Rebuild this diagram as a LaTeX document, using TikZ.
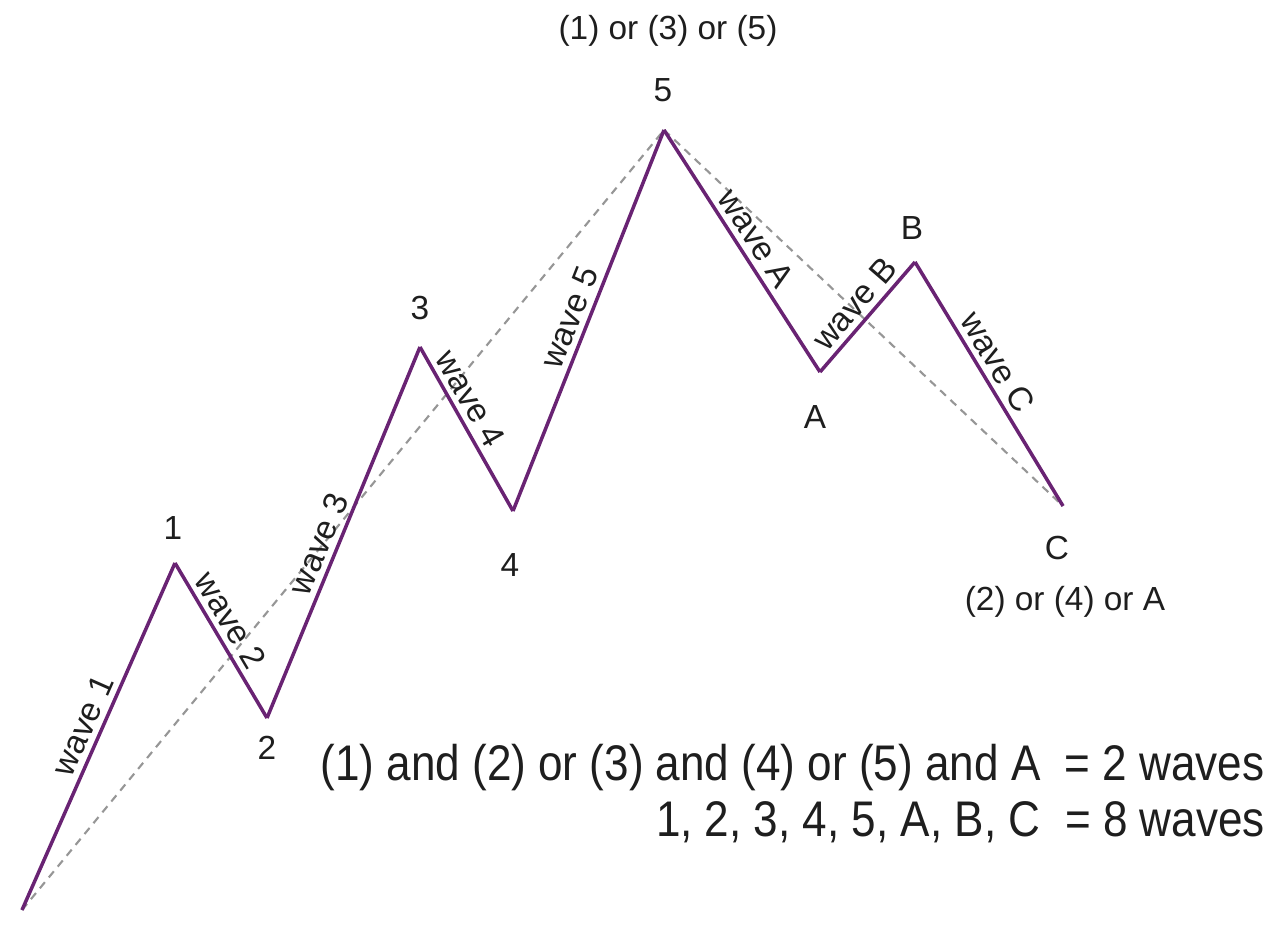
\documentclass[tikz,border=0pt]{standalone}
\usepackage{fontspec}
\setmainfont{Liberation Sans}
\newfontfamily\notefont[FakeStretch=0.88]{Liberation Sans}
\definecolor{wavepurple}{RGB}{105,35,115}
\definecolor{trendgray}{RGB}{150,150,150}
\definecolor{inkblack}{RGB}{30,30,30}
\tikzset{
  wave/.style={wavepurple, line width=2pt, line join=miter},
  trend/.style={trendgray, line width=1.2pt, dash pattern=on 4.5pt off 3.5pt},
  ptlabel/.style={text=inkblack, font=\fontsize{19}{22}\selectfont, inner sep=0pt},
  wlabel/.style={sloped, above, text=inkblack, font=\fontsize{19}{22}\selectfont, inner sep=3pt},
  sumlabel/.style={anchor=east, text=inkblack, font=\notefont\fontsize{28.5}{34}\selectfont, inner sep=0pt}
}
\begin{document}
\begin{tikzpicture}[x=0.02cm, y=0.02cm]
  \useasboundingbox (0,0) rectangle (1274,934);

  % -- Wave turning points --
  \coordinate (p0) at (22,24);
  \coordinate (p1) at (175,371);
  \coordinate (p2) at (267,216);
  \coordinate (p3) at (420,587);
  \coordinate (p4) at (513,423);
  \coordinate (p5) at (664,804);
  \coordinate (pa) at (820,562);
  \coordinate (pb) at (915,672);
  \coordinate (pc) at (1063,428);

  % -- Trend lines --
  \draw[trend] (p0) -- (p5);
  \draw[trend] (p5) -- (pc);

  % -- Impulse waves --
  \draw[wave] (p0) -- node[wlabel, pos=0.51] (w1) {wave 1} (p1);
  \draw[wave] (p1) -- node[wlabel, pos=0.43] (w2) {wave 2} (p2);
  \draw[wave] (p2) -- node[wlabel, pos=0.45] (w3) {wave 3} (p3);
  \draw[wave] (p3) -- node[wlabel, pos=0.37] (w4) {wave 4} (p4);
  \draw[wave] (p4) -- node[wlabel, pos=0.49] (w5) {wave 5} (p5);

  % -- Corrective waves --
  \draw[wave] (p5) -- node[wlabel, pos=0.49] (wa) {wave A} (pa);
  \draw[wave] (pa) -- node[wlabel, pos=0.51] (wb) {wave B} (pb);
  \draw[wave] (pb) -- node[wlabel, pos=0.45] (wc) {wave C} (pc);

  % -- Point labels --
  \node[ptlabel] (n1) at (173,406) {1};
  \node[ptlabel] (n2) at (267,186) {2};
  \node[ptlabel] (n3) at (420,626) {3};
  \node[ptlabel] (n4) at (510,369) {4};
  \node[ptlabel] (n5) at (663,844) {5};
  \node[ptlabel] (na) at (815,517) {A};
  \node[ptlabel] (nb) at (912,706) {B};
  \node[ptlabel] (nc) at (1057,386) {C};

  % -- Degree notes --
  \node[ptlabel] (top) at (668,903) {(1) or (3) or (5)};
  \node[ptlabel] (low) at (1065,332) {(2) or (4) or A};

  % -- Wave counts --
  \node[sumlabel] (cnt2) at (1265,166) {(1) and (2) or (3) and (4) or (5) and A \ = 2 waves};
  \node[sumlabel] (cnt8) at (1265,112) {1, 2, 3, 4, 5, A, B, C \ = 8 waves};

\end{tikzpicture}
\end{document}
